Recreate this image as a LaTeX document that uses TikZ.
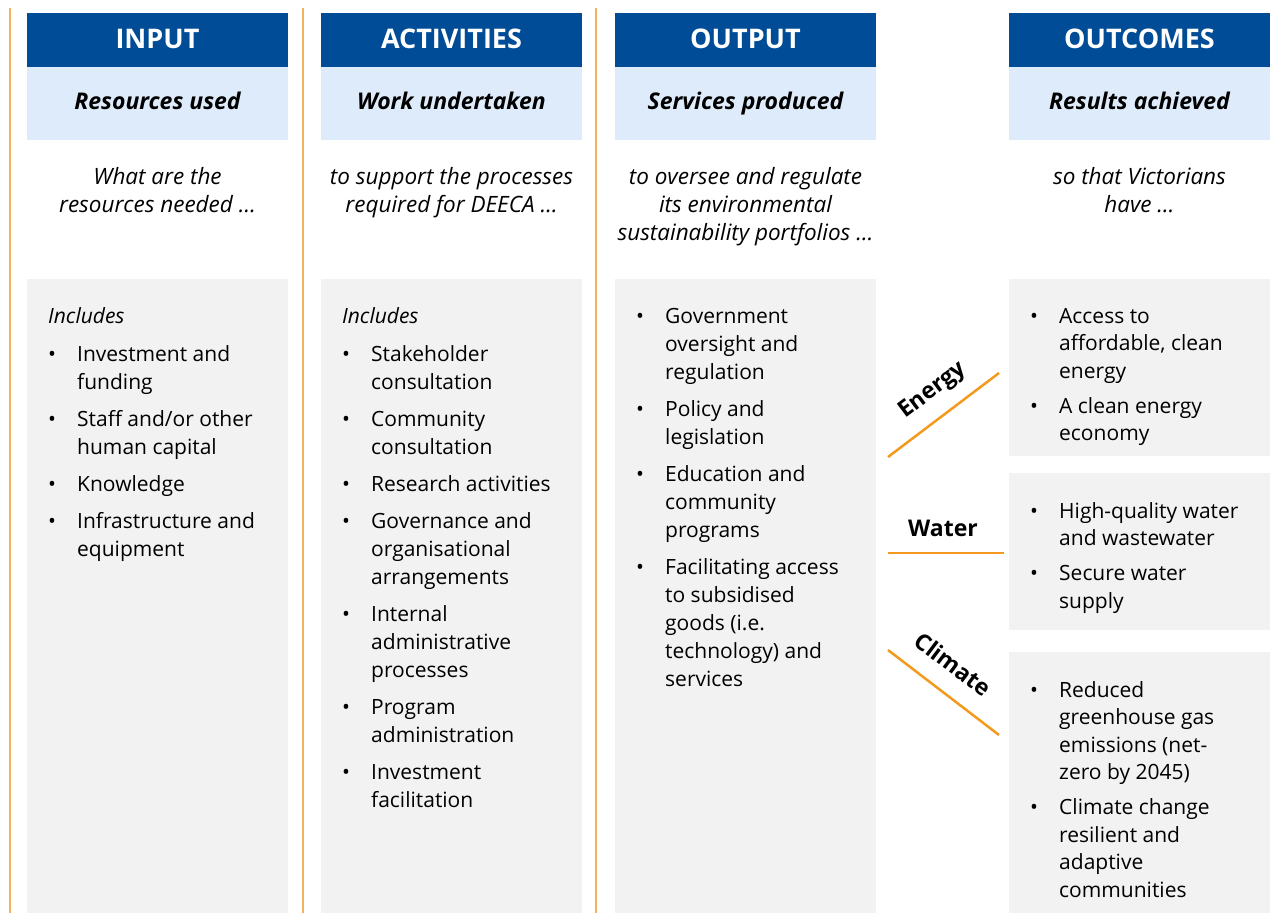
\documentclass[tikz,border=0pt]{standalone}
\usepackage{fontspec}
\setmainfont{Open Sans}
\usetikzlibrary{positioning}

\definecolor{deecablue}{HTML}{004C97}
\definecolor{paleblue}{HTML}{DDEBFA}
\definecolor{boxgrey}{HTML}{F2F2F2}
\definecolor{colrule}{HTML}{F5B25A}
\definecolor{tagline}{HTML}{F39A1E}

% bullet and hanging indent for the lists
\newcommand{\itm}{\makebox[29pt][l]{\textbullet}}
\newcommand{\cnt}{\hspace*{29pt}}

\begin{document}
\begin{tikzpicture}[x=1pt, y=-1pt,
    headbar/.style = {fill=deecablue, text=white, inner sep=0pt,
        minimum width=261pt, minimum height=54pt,
        text height=19pt, text depth=1pt,
        font=\bfseries\fontsize{27}{30}\selectfont},
    subbar/.style = {fill=paleblue, inner sep=0pt,
        minimum width=261pt, minimum height=73pt,
        text height=16pt, text depth=4pt,
        font=\bfseries\itshape\fontsize{23}{28}\selectfont},
    question/.style = {anchor=north, align=center, inner sep=0pt,
        font=\itshape\fontsize{22.5}{28}\selectfont},
    list/.style = {anchor=north west, align=left, inner sep=0pt,
        font=\fontsize{21}{28}\selectfont},
    tag/.style = {inner sep=0pt, font=\bfseries\fontsize{23}{24}\selectfont}
    ]
    \useasboundingbox (0,0) rectangle (1277,913);

    % column rules
    \draw [colrule, line width=1.5pt] (10,8) -- (10,913);
    \draw [colrule, line width=1.5pt] (303,8) -- (303,913);
    \draw [colrule, line width=1.5pt] (596,8) -- (596,913);

    % grey panels
    \fill [boxgrey] (27,279) rectangle (288,913);
    \fill [boxgrey] (321,279) rectangle (582,913);
    \fill [boxgrey] (615,279) rectangle (876,913);
    \fill [boxgrey] (1009,279) rectangle (1270,456);
    \fill [boxgrey] (1009,473) rectangle (1270,630);
    \fill [boxgrey] (1009,652) rectangle (1270,913);

    % headers
    \node [headbar] (hin) at (157.5,39.5) {INPUT};
    \node [headbar] (hact) at (451.5,39.5) {ACTIVITIES};
    \node [headbar] (hout) at (745.5,39.5) {OUTPUT};
    \node [headbar] (hres) at (1139.5,39.5) {OUTCOMES};

    \node [subbar, below=0pt of hin] (sin) {Resources used};
    \node [subbar, below=0pt of hact] (sact) {Work undertaken};
    \node [subbar, below=0pt of hout] (sout) {Services produced};
    \node [subbar, below=0pt of hres] (sres) {Results achieved};

    % lead-in questions
    \node [question] (qin) at (157.5,167) {What are the\\resources needed …};
    \node [question] (qact) at (451.5,167) {to support the processes\\required for DEECA …};
    \node [question] (qout) at (745.5,167) {to oversee and regulate\\its environmental\\sustainability portfolios …};
    \node [question] (qres) at (1139.5,167) {so that Victorians\\have …};

    % lists
    \node [list] (lin) at (48,307) {\textit{Includes}\\[10pt]
        \itm Investment and\\ \cnt funding\\[9pt]
        \itm Staff and/or other\\ \cnt human capital\\[9pt]
        \itm Knowledge\\[9pt]
        \itm Infrastructure and\\ \cnt equipment};
    \node [list] (lact) at (342,307) {\textit{Includes}\\[10pt]
        \itm Stakeholder\\ \cnt consultation\\[9pt]
        \itm Community\\ \cnt consultation\\[9pt]
        \itm Research activities\\[9pt]
        \itm Governance and\\ \cnt organisational\\ \cnt arrangements\\[9pt]
        \itm Internal\\ \cnt administrative\\ \cnt processes\\[9pt]
        \itm Program\\ \cnt administration\\[9pt]
        \itm Investment\\ \cnt facilitation};
    \node [list] (lout) at (636,308) {\itm Government\\ \cnt oversight and\\ \cnt regulation\\[9pt]
        \itm Policy and\\ \cnt legislation\\[9pt]
        \itm Education and\\ \cnt community\\ \cnt programs\\[9pt]
        \itm Facilitating access\\ \cnt to subsidised\\ \cnt goods (i.e.\\ \cnt technology) and\\ \cnt services};
    \node [list, font=\fontsize{21}{27.5}\selectfont] (lres1) at (1030,308) {\itm Access to\\ \cnt affordable, clean\\ \cnt energy\\[7.5pt]
        \itm A clean energy\\ \cnt economy};
    \node [list, font=\fontsize{21}{27.5}\selectfont] (lres2) at (1030,502) {\itm High-quality water\\ \cnt and wastewater\\[7.5pt]
        \itm Secure water\\ \cnt supply};
    \node [list, font=\fontsize{21}{27.5}\selectfont] (lres3) at (1030,681) {\itm Reduced\\ \cnt greenhouse gas\\ \cnt emissions (net-\\ \cnt zero by 2045)\\[7.5pt]
        \itm Climate change\\ \cnt resilient and\\ \cnt adaptive\\ \cnt communities};

    % portfolio tags
    \coordinate (e1) at (888,457);
    \coordinate (e2) at (999,373);
    \coordinate (w1) at (888,553);
    \coordinate (w2) at (1004,553);
    \coordinate (c1) at (888,650);
    \coordinate (c2) at (999,735);
    \draw [tagline, line width=2.5pt] (e1) -- (e2);
    \draw [tagline, line width=2.5pt] (w1) -- (w2);
    \draw [tagline, line width=2.5pt] (c1) -- (c2);
    \node [tag, rotate=37] (energy) at (933,391) {Energy};
    \node [tag] (water) at (943,528) {Water};
    \node [tag, rotate=-37] (climate) at (953,664) {Climate};
\end{tikzpicture}
\end{document}
